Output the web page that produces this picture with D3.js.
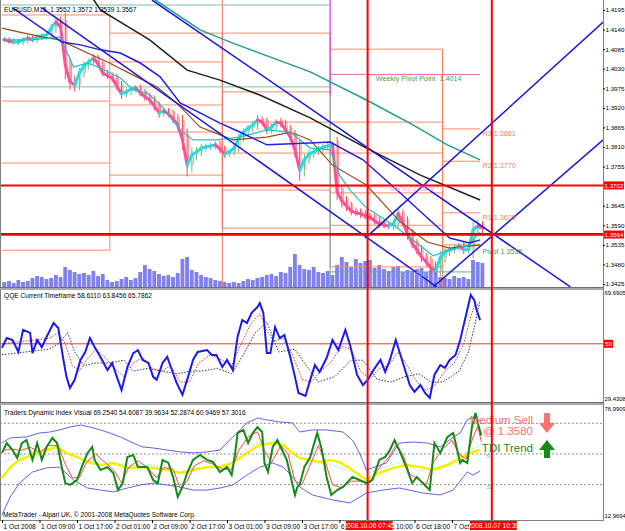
<!DOCTYPE html>
<html><head><meta charset="utf-8">
<script src="https://cdn.jsdelivr.net/npm/d3@7"></script>
<style>
html,body{margin:0;padding:0;background:#fff;}
svg{display:block;}
text{font-family:"Liberation Sans",Arial,sans-serif;}
</style></head><body>
<svg id="c" width="625" height="531"></svg>
<script>
// ---------------- DATA ----------------
const symbolTitle = "EURUSD,M15  1.3552 1.3572 1.3539 1.3567";
const qqeTitle = "QQE Current Timeframe 58.6110 63.8456 65.7862";
const tdiTitle = "Traders Dynamic Index Visual 69.2540 54.6087 39.9634 52.2874 60.9469 57.3016";
const footer = "MetaTrader - Alpari UK, \u00A9 2001-2008 MetaQuotes Software Corp.";

const timeTickBars = [0,32,64,96,128,160,192,224,256,288,320,352,384];
const timeLabels = ["1 Oct 2008","1 Oct 09:00","1 Oct 17:00","2 Oct 01:00","2 Oct 09:00","2 Oct 17:00","3 Oct 01:00","3 Oct 09:00","3 Oct 17:00","6","6 Oct 10:00","6 Oct 18:00","7 Oct 02:00"];
const priceTicks = [1.4195,1.4140,1.4085,1.4030,1.3975,1.3920,1.3865,1.3810,1.3755,1.3645,1.3590,1.3535,1.3480,1.3425];

// hourly closes (one per 4 M15 bars)
const firstOpen = 1.4113;
const closes = [1.4111,1.4108,1.4105,1.4105,1.4111,1.4116,1.4111,1.4119,1.4122,1.4125,
1.4144,1.4161,1.4147,1.4040,1.3993,1.3984,1.4018,1.4038,1.4049,1.4060,
1.4043,1.4018,1.4010,1.4004,1.3981,1.3959,1.3965,1.3973,1.3976,1.3962,
1.3951,1.3942,1.3925,1.3906,1.3911,1.3903,1.3889,1.3872,1.3830,1.3759,
1.3788,1.3796,1.3807,1.3810,1.3813,1.3816,1.3804,1.3790,1.3796,1.3807,
1.3835,1.3852,1.3863,1.3872,1.3886,1.3880,1.3858,1.3866,1.3880,1.3877,
1.3858,1.3838,1.3802,1.3745,1.3774,1.3790,1.3796,1.3804,1.3810,1.3813,
1.3816,1.3684,1.3658,1.3644,1.3630,1.3625,1.3622,1.3616,1.3613,1.3602,
1.3594,1.3591,1.3588,1.3594,1.3622,1.3599,1.3566,1.3540,1.3521,1.3501,
1.3487,1.3470,1.3462,1.3498,1.3515,1.3521,1.3526,1.3532,1.3521,1.3521,
1.3577,1.3588,1.3582];
const wickPips = [6,8,7,9,8,10,7,9,8,10,12,14,16,40,22,18,14,12,10,12,10,9,8,10,12,14,10,9,8,10,
12,10,12,14,10,9,12,14,28,32,20,14,12,10,9,10,12,10,8,10,12,10,9,12,14,10,12,10,9,12,
10,14,20,30,18,12,10,9,8,10,9,22,18,14,12,10,12,10,9,10,12,10,9,10,14,12,16,14,12,14,
12,16,18,20,14,12,10,9,12,10,24,18,14];
const volumes = [500,600,400,700,500,600,900,1100,1000,800,900,1200,1000,2000,1700,1500,1300,
1400,1200,1600,1100,1300,700,500,600,800,1000,700,900,1500,2200,1800,1600,1300,1100,
1200,1000,1400,2800,3000,1700,1500,1200,1000,900,700,600,500,400,500,400,600,
800,700,900,1000,1200,1300,1100,1500,1400,2000,3300,2200,1800,1700,2000,1500,1400,1600,1200,
2200,3000,2500,2000,2800,2400,2600,2700,1900,2200,1800,1600,2000,2100,1500,1700,
1600,1800,1900,1500,1700,2000,1000,900,800,1100,900,1000,800,2700,2500,2400];

// moving averages [bar, price]
const blackMA = [[78,1.4225],[84,1.4195],[126,1.4111],[158,1.4026],[186,1.3998],[220,1.3956],[263,1.3892],[311,1.3807],[357,1.3731],[408,1.3661]];
const tealMA = [[120,1.4250],[131,1.4223],[169,1.4139],[197,1.4102],[263,1.4021],[311,1.3942],[348,1.3877],[380,1.3816],[408,1.3774]];
const brownMA = [[0,1.4144],[15,1.4133],[35,1.4119],[49,1.4111],[55,1.4102],[73,1.4074],[90,1.4049],[112,1.4012],[132,1.3979],[149,1.3934],[169,1.3866],[197,1.3830],[226,1.3838],[246,1.3852],[263,1.3830],[282,1.3759],[311,1.3703],[340,1.3599],[363,1.3543],[382,1.3526],[408,1.3535]];
const cyanMA = [[0,1.4111],[24,1.4111],[49,1.4119],[52,1.4102],[61,1.4035],[73,1.4046],[84,1.4032],[101,1.4004],[112,1.3970],[124,1.3962],[137,1.3922],[152,1.3858],[163,1.3830],[183,1.3830],[203,1.3838],[226,1.3858],[246,1.3852],[263,1.3807],[280,1.3802],[288,1.3731],[297,1.3689],[311,1.3639],[334,1.3591],[354,1.3540],[368,1.3504],[382,1.3521],[397,1.3532],[408,1.3571]];
const blueCurve = [[9,1.4201],[51,1.4105],[67,1.4097],[84,1.4083],[101,1.4074],[118,1.4046],[135,1.4007],[152,1.3934],[169,1.3906],[186,1.3877],[203,1.3852],[226,1.3816],[263,1.3821],[280,1.3824],[308,1.3774],[337,1.3689],[365,1.3605],[382,1.3554],[399,1.3540],[408,1.3549]];

// straight trend lines [bar, price] pairs
const trendLines = [
  [[34,1.4201],[371,1.3417]],
  [[128,1.4223],[485,1.3417]],
  [[368,1.3417],[513,1.3830]],
  [[310,1.3554],[513,1.4161]]
];

// daily pivot levels
const pivotDayBounds = [0,92,188,280,376,408];
const pivotLevels = [
  [1.4181,1.3939,1.3765,1.3520],
  [1.4130,1.4049,1.3928,1.3852,1.3731],
  [1.4130,1.3965,1.3880,1.3793,1.3689,1.3582],
  [1.4085,1.3880,1.3793,1.3681,1.3590,1.3473],
  [1.3861,1.3770,1.3625,1.3535]
];
const lastDayNames = ["R3","R2","R1","Pivot"];
const weeklyOld = [1.4209,1.3979];
const weeklyPivot = 1.4014;
const weeklyS1 = 1.3459;
const monthlyS1 = 1.3698;

const hLines = [1.3702,1.3564];
const vLines = [{bar:312,label:"2008.10.06 07:45"},{bar:418,label:"2008.10.07 10:30"}];

// QQE
const qqeBlue = [[0,48.5],[4,52.1],[9,51.4],[14,47.0],[18,55.1],[24,54.0],[26,46.6],[30,51.4],[34,48.8],[38,52.5],[44,57.6],[48,55.8],[52,45.2],[55,37.9],[58,33.8],[62,36.8],[67,44.1],[71,47.0],[75,52.1],[79,48.8],[84,45.2],[90,40.4],[94,43.0],[98,37.9],[102,33.1],[107,41.5],[112,46.6],[116,47.7],[120,44.1],[125,43.0],[129,37.9],[132,36.8],[137,43.0],[141,45.2],[145,40.4],[149,35.7],[154,31.3],[158,36.8],[163,44.1],[167,47.0],[175,47.7],[179,45.9],[183,45.9],[188,41.5],[192,44.1],[197,40.4],[201,52.5],[205,58.7],[209,57.6],[213,61.3],[218,63.5],[220,64.9],[223,61.3],[226,46.6],[229,46.6],[233,56.1],[237,52.1],[241,53.2],[246,45.2],[250,37.9],[253,32.0],[259,30.9],[263,36.8],[267,42.2],[271,39.7],[277,44.8],[282,51.4],[287,47.7],[293,55.1],[297,49.6],[303,38.6],[308,34.9],[312,36.8],[317,40.4],[323,44.1],[327,39.7],[331,44.1],[336,51.4],[340,45.9],[344,40.4],[348,34.9],[352,32.4],[357,34.9],[361,32.0],[365,30.2],[369,38.6],[374,42.2],[378,41.2],[382,44.1],[387,45.9],[391,51.4],[393,55.1],[397,62.4],[400,67.9],[403,66.0],[405,62.4],[408,58.6]];
const qqeRed = [[0,50],[10,50.5],[20,51],[30,51.5],[40,52],[48,54],[54,50],[60,42],[66,40],[72,44],[80,48],[88,45],[96,41],[104,38],[112,43],[120,45],[128,41],[136,40],[144,42],[152,36],[160,36],[168,43],[178,46],[188,44],[196,42],[204,50],[212,57],[220,61],[226,55],[232,51],[240,52],[248,46],[256,37],[264,36],[272,40],[280,43],[290,49],[298,48],[306,40],[314,37],[322,41],[330,42],[338,47],[346,42],[354,36],[362,33],[370,35],[378,40],[386,43],[394,50],[400,60],[404,65],[408,63.8]];
const qqeBlack = [[0,46],[20,47],[40,48],[48,50],[56,54],[62,47],[70,42],[80,43],[92,43],[104,44],[112,40],[124,41],[136,40],[150,39],[160,40],[170,40],[184,41],[196,39],[206,46],[216,54],[226,58],[236,47],[250,48],[258,43],[270,36],[284,38],[298,44],[308,44],[320,37],[332,36],[344,38],[356,39],[366,36],[376,36],[390,40],[398,47],[404,58],[408,65.8]];

// TDI
const tdiGreen = [[0,50.6],[4,56.4],[9,52.3],[13,47.6],[17,56.4],[21,58.2],[26,46.5],[30,56.4],[34,46.5],[38,54.1],[43,59.4],[47,56.4],[51,42.3],[54,32.9],[58,31.8],[64,34.7],[68,42.3],[73,50.6],[77,54.1],[79,46.5],[84,40.6],[90,42.3],[95,38.8],[99,28.8],[103,32.9],[107,48.2],[112,49.4],[116,42.3],[124,42.3],[129,34.7],[133,32.9],[137,46.5],[142,44.7],[146,36.5],[150,24.7],[154,30.6],[158,38.8],[163,46.5],[169,49.4],[175,46.5],[180,45.3],[186,39.4],[192,42.3],[196,37.6],[199,50.6],[201,62.3],[206,64.1],[210,56.4],[214,62.3],[218,65.8],[222,62.9],[224,44.7],[227,39.4],[231,54.1],[235,58.2],[239,52.3],[243,46.5],[247,34.7],[250,25.9],[252,30.6],[254,31.8],[258,42.3],[263,48.2],[269,62.3],[273,52.3],[277,36.5],[281,25.9],[286,28.8],[291,30.6],[299,36.5],[305,34.7],[311,32.9],[316,34.7],[322,46.5],[327,48.2],[331,52.3],[335,58.2],[339,52.3],[345,42.3],[350,32.9],[354,36.5],[359,32.9],[365,28.8],[369,56.4],[374,50.6],[380,59.9],[385,62.3],[391,44.7],[393,46.5],[397,44.7],[401,65.8],[404,74.1],[406,68.2],[409,60.9]];
const tdiRed = [[0,52],[8,53],[16,52],[24,54],[32,51],[40,55],[48,55],[54,44],[60,36],[66,36],[72,45],[80,50],[88,45],[96,40],[102,33],[108,42],[116,46],[124,42],[132,36],[138,42],[146,41],[152,30],[158,34],[164,43],[172,46],[180,44],[188,41],[196,41],[202,52],[210,60],[218,63],[224,52],[230,45],[238,55],[244,50],[250,34],[256,32],[262,42],[270,55],[276,45],[282,32],[290,30],[298,34],[306,34],[314,33],[322,42],[330,48],[336,55],[342,50],[348,38],[356,35],[362,32],[368,45],[376,53],[384,58],[390,50],[396,47],[402,60],[406,66],[409,57.3]];
const tdiYellow = [[0,35.9],[7,42.3],[15,46.5],[26,49.4],[38,52.3],[47,54.1],[55,50.6],[64,48.2],[73,45.3],[84,43.5],[95,44.7],[107,41.8],[118,42.3],[129,41.8],[141,40.6],[152,38.8],[163,40.6],[175,42.3],[186,42.3],[197,44.7],[209,50.6],[220,55.3],[231,56.4],[240,55.3],[248,50.6],[254,47.6],[263,46.5],[271,45.3],[280,46.5],[288,45.3],[299,40.6],[311,34.7],[322,38.8],[334,41.8],[345,43.5],[357,42.3],[368,40.6],[380,43.5],[391,47.6],[399,50.6],[408,52.3]];
const tdiUpper = [[0,56.4],[7,59.4],[21,60.0],[32,62.3],[41,62.9],[49,64.1],[58,65.8],[67,67.0],[75,65.8],[84,64.1],[92,62.3],[101,60.0],[112,56.4],[120,54.1],[129,53.5],[141,52.3],[152,51.2],[163,50.6],[175,51.2],[186,52.3],[197,60.0],[209,68.2],[218,71.1],[226,70.0],[237,68.8],[248,68.2],[254,62.9],[265,64.1],[277,64.1],[291,62.9],[299,58.2],[305,50.6],[311,40.6],[316,41.8],[328,44.7],[339,56.4],[351,57.0],[363,56.4],[374,54.1],[385,59.9],[391,62.3],[397,70.0],[402,71.7],[408,69.3]];
const tdiLower = [[0,14.2],[7,24.7],[15,32.9],[26,39.4],[38,41.8],[49,42.3],[61,34.7],[73,30.0],[84,28.8],[95,27.7],[107,30.0],[118,31.8],[129,32.9],[141,31.8],[152,30.6],[163,28.8],[175,28.8],[186,30.0],[197,31.8],[209,37.6],[220,42.3],[231,44.7],[240,42.3],[248,36.5],[254,30.6],[265,25.9],[282,23.0],[297,21.2],[311,27.1],[325,28.8],[339,30.0],[359,27.1],[374,25.9],[385,28.8],[397,39.4],[402,37.6],[408,40.0]];
const tdiMid = [[0,45],[20,50],[40,52],[56,50],[66,44],[80,47],[96,45],[110,43],[124,44],[136,42],[150,39],[164,42],[180,42],[196,45],[210,53],[222,58],[236,55],[248,48],[256,43],[266,45],[280,44],[296,40],[310,38],[326,42],[340,45],[356,40],[370,42],[386,45],[398,52],[408,54.6]];
const tdiLevels = [68,50,32];
const tdiLevelLabels = [50,32];
const signalText = ["Medium Sell","@ 1.3580"];
const trendText = "TDI Trend";

// ---------------- DRAW ----------------
const svg = d3.select("#c");
const R = 603; // right edge of plots
const x = d3.scaleLinear().domain([0,512]).range([2,602]);
const yP = d3.scaleLinear().domain([1.3425,1.4195]).range([284,10]);
const yV = d3.scaleLinear().domain([0,4000]).range([287,247]);
const yQ = d3.scaleLinear().domain([29.4308,69.6905]).range([400,290]);
const yT = d3.scaleLinear().domain([12.9694,76.9909]).range([517,408]);
const FS = 6.6, AFS = 6.2;

svg.append("rect").attr("width",625).attr("height",531).attr("fill","#fff");
const defs = svg.append("defs");
function clip(id,x0,y0,w,h){defs.append("clipPath").attr("id",id).append("rect").attr("x",x0).attr("y",y0).attr("width",w).attr("height",h);}
clip("cm",0,0,R,287); clip("cq",0,290,R,112); clip("ct",0,405,R,115);

const gM = svg.append("g").attr("clip-path","url(#cm)");
const gQ = svg.append("g").attr("clip-path","url(#cq)");
const gT = svg.append("g").attr("clip-path","url(#ct)");

const lineP = d3.line().x(d=>x(d[0])).y(d=>yP(d[1]));
const lineQ = d3.line().x(d=>x(d[0])).y(d=>yQ(d[1]));
const lineT = d3.line().x(d=>x(d[0])).y(d=>yT(d[1]));
const hourBar = h => h*4+2;

// volumes
gM.selectAll("rect.vol").data(volumes).join("rect").attr("class","vol")
  .attr("x",(d,i)=>x(hourBar(i))-2).attr("width",x(4)-x(0)-0.8)
  .attr("y",d=>yV(d)).attr("height",d=>287-yV(d))
  .attr("fill","#7373ec").attr("opacity",0.9);

// pivot step lines
pivotLevels.forEach((lv,di)=>{
  const b0=pivotDayBounds[di], b1=pivotDayBounds[di+1];
  lv.forEach(p=>{
    gM.append("line").attr("x1",x(b0)).attr("x2",x(b1)).attr("y1",yP(p)).attr("y2",yP(p))
      .attr("stroke","#ff8a66").attr("stroke-width",1);
  });
  if(di>0){
    const all=lv.concat(pivotLevels[di-1]);
    gM.append("line").attr("x1",x(b0)).attr("x2",x(b0)).attr("y1",yP(d3.max(all))).attr("y2",yP(d3.min(all)))
      .attr("stroke","#ff8a66").attr("stroke-width",1);
  }
});
// day separators
gM.append("line").attr("x1",x(pivotDayBounds[2])).attr("x2",x(pivotDayBounds[2])).attr("y1",0).attr("y2",287).attr("stroke","#f07060").attr("stroke-width",1);
gM.append("line").attr("x1",x(pivotDayBounds[3])).attr("x2",x(pivotDayBounds[3])).attr("y1",0).attr("y2",yP(1.3956)).attr("stroke","#c040e0").attr("stroke-width",1.2);
gM.append("line").attr("x1",x(pivotDayBounds[3])).attr("x2",x(pivotDayBounds[3])).attr("y1",yP(1.3956)).attr("y2",287).attr("stroke","#60b090").attr("stroke-width",1);
gM.append("line").attr("x1",x(pivotDayBounds[4])).attr("x2",x(pivotDayBounds[4])).attr("y1",yP(1.4085)).attr("y2",287).attr("stroke","#ff7a55").attr("stroke-width",1);

// weekly levels
weeklyOld.forEach(p=>gM.append("line").attr("x1",x(0)).attr("x2",x(pivotDayBounds[3])).attr("y1",yP(p)).attr("y2",yP(p)).attr("stroke","#7cc0a0").attr("stroke-width",1));
gM.append("line").attr("x1",x(pivotDayBounds[3])).attr("x2",x(pivotDayBounds[5])).attr("y1",yP(weeklyPivot)).attr("y2",yP(weeklyPivot)).attr("stroke","#e060b8").attr("stroke-width",1);
gM.append("line").attr("x1",x(pivotDayBounds[3])).attr("x2",x(pivotDayBounds[5])).attr("y1",yP(weeklyS1)).attr("y2",yP(weeklyS1)).attr("stroke","#60b090").attr("stroke-width",1);
gM.append("line").attr("x1",x(pivotDayBounds[3])).attr("x2",x(pivotDayBounds[5])).attr("y1",yP(monthlyS1)).attr("y2",yP(monthlyS1)).attr("stroke","#f6b8c8").attr("stroke-width",1);

// candles
closes.forEach((c,h)=>{
  const o = h===0?firstOpen:closes[h-1];
  const hi = Math.max(o,c)+wickPips[h]*0.0001, lo = Math.min(o,c)-wickPips[h]*0.0001;
  const up = c>=o;
  const xc = x(hourBar(h));
  gM.append("line").attr("x1",xc).attr("x2",xc).attr("y1",yP(hi)).attr("y2",yP(lo))
    .attr("stroke",up?"#7faf7f":"#ff4545").attr("stroke-width",1);
  gM.append("line").attr("x1",xc+1.5).attr("x2",xc+1.5).attr("y1",yP(Math.max(o,c)+wickPips[h]*0.00005)).attr("y2",yP(Math.min(o,c)))
    .attr("stroke",up?"#a9c9a9":"#ff8a8a").attr("stroke-width",1);
});
// heiken-style overlay
closes.forEach((c,h)=>{
  if(h===0) return;
  const p=closes[h-1];
  gM.append("line").attr("x1",x(hourBar(h-1))).attr("x2",x(hourBar(h))).attr("y1",yP(p)).attr("y2",yP(c))
    .attr("stroke",c>=p?"#22dede":"#ff4f9c").attr("stroke-width",3).attr("stroke-linecap","round");
});

// MAs
[[tealMA,"#1e9e8c",1.5],[blackMA,"#202020",1.5],[brownMA,"#9a4a1a",1.2],[cyanMA,"#17c6c6",1.2],[blueCurve,"#2020e0",1.5]].forEach(([d,c,w])=>{
  gM.append("path").attr("d",lineP(d)).attr("fill","none").attr("stroke",c).attr("stroke-width",w);
});
trendLines.forEach(d=>gM.append("path").attr("d",lineP(d)).attr("fill","none").attr("stroke","#1818dd").attr("stroke-width",1.5));

// horizontal red lines
hLines.forEach((p,i)=>{
  gM.append("line").attr("x1",0).attr("x2",R).attr("y1",yP(p)).attr("y2",yP(p)).attr("stroke","#ff0000").attr("stroke-width",i===1?2.6:2);
  if(i===1) gM.append("line").attr("x1",0).attr("x2",R).attr("y1",yP(p)-1).attr("y2",yP(p)-1).attr("stroke","#a00000").attr("stroke-width",0.8);
});

// labels in main chart
const lbl=(g,t,xx,yy,col,fs)=>g.append("text").attr("x",xx).attr("y",yy).attr("font-size",fs||FS).attr("fill",col).text(t);
lbl(svg,"Weekly Pivot Point  "+weeklyPivot.toFixed(4),x(319),yP(weeklyPivot)+7,"#4f9a3f",7.2).attr("xml:space","preserve");
pivotLevels[4].forEach((p,i)=>{
  const nm=lastDayNames[i];
  lbl(svg,nm+" "+p.toFixed(4),x(410),yP(p)+(nm==="Pivot"?9:7),nm==="Pivot"?"#4f9a3f":"#f2846a",7.2);
});
lbl(svg,"MS S1 "+monthlyS1.toFixed(4),x(331),yP(monthlyS1)+4,"#f0a0c8",7);
lbl(svg,"W S1 "+weeklyS1.toFixed(4),x(331),yP(weeklyS1)+5,"#8a9ae8",7);
lbl(svg,symbolTitle,4,12,"#000",FS).attr("xml:space","preserve");

// QQE panel
gQ.append("line").attr("x1",0).attr("x2",R).attr("y1",yQ(50)).attr("y2",yQ(50)).attr("stroke","#ff3030").attr("stroke-width",1);
gQ.append("path").attr("d",lineQ(qqeBlack)).attr("fill","none").attr("stroke","#333").attr("stroke-width",1).attr("stroke-dasharray","1.5,1.5");
gQ.append("path").attr("d",lineQ(qqeRed)).attr("fill","none").attr("stroke","#e03030").attr("stroke-width",1).attr("stroke-dasharray","1.5,1.5");
gQ.append("path").attr("d",lineQ(qqeBlue)).attr("fill","none").attr("stroke","#1a1af0").attr("stroke-width",2);
lbl(svg,qqeTitle,4,298,"#000",FS);

// TDI panel
tdiLevels.forEach(v=>{
  gT.append("line").attr("x1",0).attr("x2",R).attr("y1",yT(v)).attr("y2",yT(v)).attr("stroke","#707070").attr("stroke-width",0.8).attr("stroke-dasharray","2,2");
});
tdiLevelLabels.forEach(v=>lbl(gT,String(v),x(413),yT(v)+4,"#9ab09a",5.5));
gT.append("path").attr("d",lineT(tdiUpper)).attr("fill","none").attr("stroke","#6262ec").attr("stroke-width",1);
gT.append("path").attr("d",lineT(tdiLower)).attr("fill","none").attr("stroke","#6262ec").attr("stroke-width",1);
gT.append("path").attr("d",lineT(tdiMid)).attr("fill","none").attr("stroke","#8ae6e6").attr("stroke-width",1).attr("stroke-dasharray","1.5,1.5");
gT.append("path").attr("d",lineT(tdiYellow)).attr("fill","none").attr("stroke","#f4f000").attr("stroke-width",2.5);
gT.append("path").attr("d",lineT(tdiRed)).attr("fill","none").attr("stroke","#ff4a4a").attr("stroke-width",1);
gT.append("path").attr("d",lineT(tdiGreen)).attr("fill","none").attr("stroke","#158a15").attr("stroke-width",2);
lbl(svg,tdiTitle,4,415,"#000",FS);
lbl(svg,footer,3,517,"#000",FS);

// signal texts + arrows
svg.append("text").attr("x",533).attr("y",424).attr("text-anchor","end").attr("font-size",11.5).attr("fill","#ff6f6f").text(signalText[0]);
svg.append("text").attr("x",533).attr("y",435).attr("text-anchor","end").attr("font-size",11.5).attr("fill","#ff6f6f").text(signalText[1]);
svg.append("text").attr("x",533).attr("y",452).attr("text-anchor","end").attr("font-size",11.5).attr("fill","#168a16").text(trendText);
svg.append("path").attr("d","M544,413H550V423H555L547,433L539,423H544Z").attr("fill","#ff6f6f");
svg.append("path").attr("d","M547,440L555,450H550V458H544V450H539Z").attr("fill","#168a16");

// frames & separators
svg.append("line").attr("x1",0.5).attr("x2",0.5).attr("y1",0).attr("y2",520).attr("stroke","#808080");
svg.append("line").attr("x1",R+0.5).attr("x2",R+0.5).attr("y1",0).attr("y2",521).attr("stroke","#808080");
svg.append("line").attr("x1",0).attr("x2",R).attr("y1",520.5).attr("y2",520.5).attr("stroke","#808080");
[287,402].forEach(yy=>{
  svg.append("rect").attr("x",0).attr("y",yy).attr("width",R).attr("height",3).attr("fill","#a8a8a8");
  svg.append("line").attr("x1",0).attr("x2",R).attr("y1",yy+0.5).attr("y2",yy+0.5).attr("stroke","#707070");
});

// vertical red lines
vLines.forEach(v=>{
  svg.append("line").attr("x1",x(v.bar)).attr("x2",x(v.bar)).attr("y1",0).attr("y2",520).attr("stroke","#ff0000").attr("stroke-width",2);
});

// price axis
const ax = d3.axisRight(yP).tickValues(priceTicks).tickFormat(d3.format(".4f")).tickSize(2).tickPadding(0.5);
const gA = svg.append("g").attr("transform",`translate(${R},0)`).call(ax);
gA.select(".domain").remove();
gA.selectAll("text").attr("font-size",AFS).attr("fill","#000").attr("font-family","Liberation Sans, Arial");
gA.selectAll("line").attr("stroke","#000");
hLines.forEach(p=>{
  svg.append("rect").attr("x",R+1).attr("y",yP(p)-4).attr("width",20).attr("height",8).attr("fill","#ff0000");
  svg.append("text").attr("x",R+1.5).attr("y",yP(p)+2.3).attr("font-size",AFS).attr("fill","#fff").text(p.toFixed(4));
});
// QQE axis
lbl(svg,"69.6905",R+1.5,295,"#000",5.9);
lbl(svg,"29.4308",R+1.5,401,"#000",5.9);
svg.append("rect").attr("x",R+1).attr("y",yQ(50)-4).attr("width",9).attr("height",8).attr("fill","#ff0000");
lbl(svg,"50",R+2,yQ(50)+2.3,"#fff",AFS);
// TDI axis
lbl(svg,"76.9909",R+1.5,411,"#000",5.9);
lbl(svg,"12.9694",R+1.5,518,"#000",5.9);

// time axis
const tx = d3.axisBottom(x).tickValues(timeTickBars).tickFormat((d,i)=>timeLabels[i]).tickSize(3).tickPadding(1);
const gX = svg.append("g").attr("transform","translate(0,520)").call(tx);
gX.select(".domain").remove();
gX.selectAll("text").attr("font-size",FS).attr("fill","#000").attr("text-anchor","start").attr("dx",1).attr("font-family","Liberation Sans, Arial");
gX.selectAll("line").attr("stroke","#000");
vLines.forEach(v=>{
  svg.append("rect").attr("x",x(v.bar)-22).attr("y",521).attr("width",47).attr("height",9).attr("fill","#ff0000");
  svg.append("text").attr("x",x(v.bar)+1.5).attr("y",528).attr("text-anchor","middle").attr("font-size",FS).attr("fill","#fff").text(v.label);
});
</script>
</body></html>
